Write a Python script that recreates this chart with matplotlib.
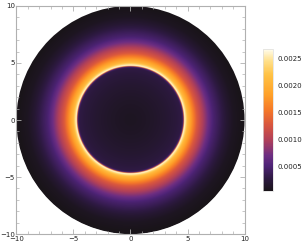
import numpy as np
import matplotlib
matplotlib.use("Agg")
import matplotlib.pyplot as plt
from matplotlib.colors import LinearSegmentedColormap
from matplotlib.patches import Circle

# Radial intensity profile
radii = [0.0, 1.0, 2.0, 3.0, 4.0, 4.5, 4.62, 4.72, 4.8, 5.0, 5.4, 5.8, 6.3, 6.8, 7.2, 7.8, 8.4, 9.0, 10.0]
values = [0.00010, 0.00012, 0.00015, 0.00019, 0.00025, 0.0003, 0.0005, 0.0027, 0.0025, 0.0021, 0.0017,
          0.0013, 0.0010, 0.0007, 0.0005, 0.00035, 0.0002, 0.0001, 0.00004]
axis_ticks = [-10, -5, 0, 5, 10]
cbar_ticks = [0.0005, 0.0010, 0.0015, 0.0020, 0.0025]
cbar_labels = ["0.0005", "0.0010", "0.0015", "0.0020", "0.0025"]
vmin, vmax = 0.00005, 0.00267

cmap = LinearSegmentedColormap.from_list("sunset", [
    (0.00, (0.10, 0.08, 0.10)),
    (0.09, (0.18, 0.10, 0.26)),
    (0.18, (0.31, 0.14, 0.47)),
    (0.25, (0.43, 0.18, 0.51)),
    (0.36, (0.69, 0.25, 0.35)),
    (0.46, (0.84, 0.33, 0.25)),
    (0.57, (0.96, 0.47, 0.16)),
    (0.68, (1.00, 0.63, 0.16)),
    (0.82, (1.00, 0.76, 0.27)),
    (0.92, (1.00, 0.88, 0.55)),
    (1.00, (1.00, 0.99, 0.93)),
])

fig = plt.figure(figsize=(3.02, 2.48), dpi=100)
ax = fig.add_axes([0.053, 0.056, 0.758, 0.92])

n = 600
xs = np.linspace(-10, 10, n)
X, Y = np.meshgrid(xs, xs)
R = np.hypot(X, Y)
Z = np.interp(R, radii, values)
Z = np.ma.masked_where(R > 10.05, Z)
im = ax.imshow(Z, extent=[-10, 10, -10, 10], origin="lower", cmap=cmap, vmin=vmin, vmax=vmax,
               interpolation="bilinear")
clip = Circle((0, 0), 10, transform=ax.transData)
im.set_clip_path(clip)

ax.set_xlim(-10, 10)
ax.set_ylim(-10, 10)
ax.set_aspect("equal")
ax.set_xticks(axis_ticks)
ax.set_yticks(axis_ticks)
ax.set_xticks(np.arange(-10, 11, 1), minor=True)
ax.set_yticks(np.arange(-10, 11, 1), minor=True)
frame_col = "#b0b0b0"
for s in ax.spines.values():
    s.set_color(frame_col)
    s.set_linewidth(0.8)
ax.tick_params(which="both", direction="in", top=True, right=True, color=frame_col,
               labelsize=5, labelcolor="#222222", pad=1.5)
ax.tick_params(which="major", length=3.5, width=0.6)
ax.tick_params(which="minor", length=2, width=0.5)
ax.tick_params(axis="x", labeltop=False)
ax.tick_params(axis="y", labelright=False, pad=1)

cax = fig.add_axes([0.871, 0.23, 0.033, 0.572])
cb = fig.colorbar(im, cax=cax, ticks=cbar_ticks)
cb.set_ticklabels(cbar_labels)
cb.outline.set_edgecolor("#dddddd")
cb.outline.set_linewidth(0.5)
cax.tick_params(length=0, labelsize=5, labelcolor="#222222", pad=3)

fig.savefig("out.png", dpi=100)
